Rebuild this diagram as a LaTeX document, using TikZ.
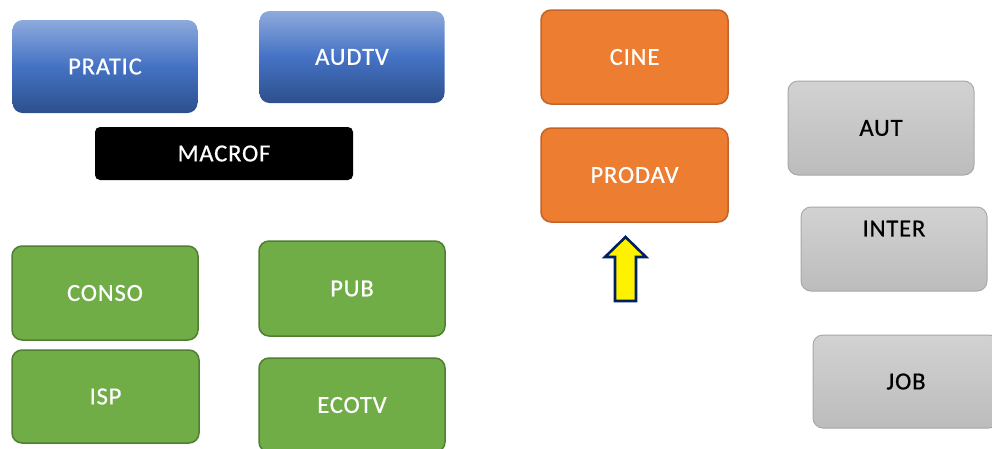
\documentclass[tikz,border=0pt]{standalone}
\usepackage{fontspec}
\setmainfont[LetterSpace=3.5, FakeBold=0.6]{Carlito}
\definecolor{bluetop}{RGB}{142,170,220}
\definecolor{bluemid}{RGB}{68,114,196}
\definecolor{bluebot}{RGB}{45,80,140}
\definecolor{orangefill}{RGB}{237,125,49}
\definecolor{orangeline}{RGB}{196,98,40}
\definecolor{greenfill}{RGB}{112,173,71}
\definecolor{greenline}{RGB}{80,126,50}
\definecolor{graytop}{RGB}{210,210,210}
\definecolor{graybot}{RGB}{188,188,188}
\definecolor{grayline}{RGB}{168,168,168}
\definecolor{navy}{RGB}{0,32,96}
\tikzset{
  boxfont/.style={font=\fontsize{24.5}{30}\selectfont},
  box/.style={rounded corners=10pt, minimum width=185pt, minimum height=93pt,
    inner sep=0pt, boxfont},
  bluebox/.style={box, top color=bluetop, bottom color=bluebot, middle color=bluemid, text=white},
  orangebox/.style={box, fill=orangefill, draw=orangeline, line width=1.5pt, text=white},
  greenbox/.style={box, fill=greenfill, draw=greenline, line width=1.5pt, text=white},
  graybox/.style={box, top color=graytop, bottom color=graybot, draw=grayline, line width=1pt, text=black},
  blackbox/.style={box, rounded corners=5pt, fill=black, text=white, minimum width=258pt, minimum height=53pt}
}
\begin{document}
\begin{tikzpicture}[x=1pt, y=-1pt]
\useasboundingbox (0,0) rectangle (992,448);
% blue group
\node[bluebox] (pratic) at (105,66.5) {PRATIC};
\node[bluebox, minimum height=92pt] (audtv) at (352,57) {AUDTV};
\node[blackbox] (macrof) at (224,153.5) {MACROF};
% green group
\node[greenbox, minimum width=186pt, minimum height=94pt] (conso) at (105,293) {CONSO};
\node[greenbox, minimum width=187pt] (isp) at (105.5,396.5) {ISP};
\node[greenbox, minimum width=186pt, minimum height=95pt] (pub) at (352,288.5) {PUB};
\node[greenbox, minimum width=186pt, minimum height=94pt] (ecotv) at (352,405) {ECOTV};
% orange group
\node[orangebox, minimum width=187pt, minimum height=94pt] (cine) at (634.5,57) {CINE};
\node[orangebox, minimum width=187pt, minimum height=94pt] (prodav) at (634.5,175) {PRODAV};
% up arrow under PRODAV
\draw[navy, line width=2.6pt, fill=yellow, line join=miter]
  (615,301) -- (615,257) -- (605,257) -- (625.5,237) -- (646,257) -- (636,257) -- (636,301) -- cycle;
% gray group
\node[graybox, minimum width=186pt, minimum height=94pt] (aut) at (881,128) {AUT};
\node[graybox, minimum width=186pt, minimum height=84pt,
  label={[anchor=north, inner sep=0pt, boxfont, yshift=-14pt]north:INTER}] (inter) at (894,249) {};
\node[graybox, minimum width=186pt, minimum height=93pt] (job) at (906,381.5) {JOB};
\end{tikzpicture}
\end{document}
